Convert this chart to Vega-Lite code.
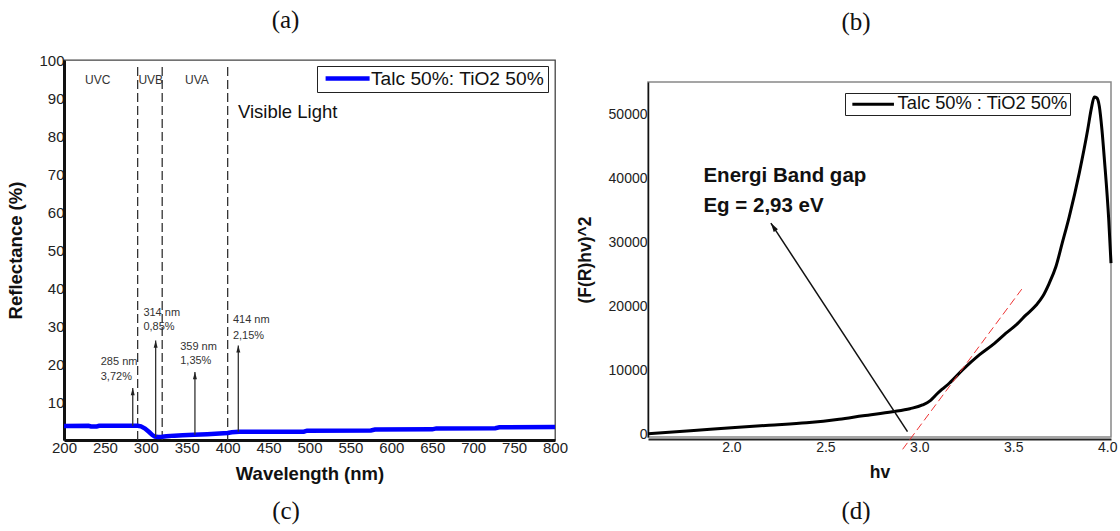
{
  "$schema": "https://vega.github.io/schema/vega-lite/v6.json",
  "padding": {"left": 6, "top": 7, "right": 0, "bottom": 0},
  "background": "white",
  "config": {
    "font": "Liberation Sans",
    "view": {"stroke": null},
    "title": {"font": "Liberation Serif", "fontSize": 25, "fontWeight": "normal", "color": "#111"},
    "axis": {"grid": false, "ticks": false, "labelFont": "Liberation Sans", "titleFont": "Liberation Sans", "labelColor": "#222", "titleColor": "#111", "titleFontWeight": "bold", "labelFlush": false, "labelOverlap": false}
  },
  "columns": 2,
  "align": "each",
  "spacing": {"row": 15, "column": 6},
  "resolve": {"scale": {"color": "independent"}, "legend": {"color": "independent"}},
  "concat": [
    {
      "title": {"text": "(a)", "offset": 20, "dx": -24},
      "width": 491,
      "height": 380,
      "view": {"stroke": "#444", "strokeWidth": 1.3},
      "layer": [
        {
          "data": {"values": [{"wl": 290, "r": 0, "r2": 99}, {"wl": 320, "r": 0, "r2": 99}, {"wl": 400, "r": 0, "r2": 99}]},
          "mark": {"type": "rule", "color": "#333", "strokeWidth": 1.3, "strokeDash": [9, 4]},
          "encoding": {
            "x": {"field": "wl", "type": "quantitative", "scale": {"domain": [200, 800], "nice": false, "zero": false},
              "axis": {"title": "Wavelength (nm)", "values": [200, 250, 300, 350, 400, 450, 500, 550, 600, 650, 700, 750, 800], "labelFontSize": 15, "labelPadding": 0, "titleFontSize": 18.5, "titlePadding": 9, "domainColor": "#111", "domainWidth": 3}},
            "y": {"field": "r", "type": "quantitative", "scale": {"domain": [0, 100], "nice": false},
              "axis": {"title": "Reflectance (%)", "values": [10, 20, 30, 40, 50, 60, 70, 80, 90, 100], "labelFontSize": 15, "labelPadding": 0, "titleFontSize": 18.5, "titlePadding": 13, "domainColor": "#111", "domainWidth": 3}},
            "y2": {"field": "r2"}
          }
        },
        {
          "data": {"values": [
            {"wl": 200, "r": 3.7, "series": "Talc 50%: TiO2 50%"},
            {"wl": 230, "r": 3.72, "series": "Talc 50%: TiO2 50%"},
            {"wl": 233, "r": 3.55, "series": "Talc 50%: TiO2 50%"},
            {"wl": 240, "r": 3.55, "series": "Talc 50%: TiO2 50%"},
            {"wl": 243, "r": 3.72, "series": "Talc 50%: TiO2 50%"},
            {"wl": 290, "r": 3.72, "series": "Talc 50%: TiO2 50%"},
            {"wl": 294, "r": 3.6, "series": "Talc 50%: TiO2 50%"},
            {"wl": 299, "r": 3.0, "series": "Talc 50%: TiO2 50%"},
            {"wl": 304, "r": 2.1, "series": "Talc 50%: TiO2 50%"},
            {"wl": 308, "r": 1.3, "series": "Talc 50%: TiO2 50%"},
            {"wl": 311, "r": 0.9, "series": "Talc 50%: TiO2 50%"},
            {"wl": 315, "r": 0.8, "series": "Talc 50%: TiO2 50%"},
            {"wl": 320, "r": 0.85, "series": "Talc 50%: TiO2 50%"},
            {"wl": 325, "r": 1.0, "series": "Talc 50%: TiO2 50%"},
            {"wl": 335, "r": 1.15, "series": "Talc 50%: TiO2 50%"},
            {"wl": 345, "r": 1.25, "series": "Talc 50%: TiO2 50%"},
            {"wl": 359, "r": 1.35, "series": "Talc 50%: TiO2 50%"},
            {"wl": 375, "r": 1.5, "series": "Talc 50%: TiO2 50%"},
            {"wl": 390, "r": 1.7, "series": "Talc 50%: TiO2 50%"},
            {"wl": 400, "r": 1.85, "series": "Talc 50%: TiO2 50%"},
            {"wl": 405, "r": 2.05, "series": "Talc 50%: TiO2 50%"},
            {"wl": 414, "r": 2.15, "series": "Talc 50%: TiO2 50%"},
            {"wl": 450, "r": 2.2, "series": "Talc 50%: TiO2 50%"},
            {"wl": 493, "r": 2.2, "series": "Talc 50%: TiO2 50%"},
            {"wl": 497, "r": 2.45, "series": "Talc 50%: TiO2 50%"},
            {"wl": 575, "r": 2.5, "series": "Talc 50%: TiO2 50%"},
            {"wl": 580, "r": 2.75, "series": "Talc 50%: TiO2 50%"},
            {"wl": 650, "r": 2.8, "series": "Talc 50%: TiO2 50%"},
            {"wl": 655, "r": 3.05, "series": "Talc 50%: TiO2 50%"},
            {"wl": 727, "r": 3.1, "series": "Talc 50%: TiO2 50%"},
            {"wl": 732, "r": 3.35, "series": "Talc 50%: TiO2 50%"},
            {"wl": 800, "r": 3.45, "series": "Talc 50%: TiO2 50%"}
          ]},
          "mark": {"type": "line", "strokeWidth": 4.5},
          "encoding": {
            "x": {"field": "wl", "type": "quantitative"},
            "y": {"field": "r", "type": "quantitative"},
            "color": {"field": "series", "type": "nominal", "scale": {"domain": ["Talc 50%: TiO2 50%"], "range": ["#0000ff"]},
              "legend": {"title": null, "orient": "none", "legendX": 253, "legendY": 6, "padding": 3, "strokeColor": "#222", "fillColor": "white",
                "symbolType": "M-4.4,0H4.4", "symbolSize": 100, "symbolStrokeWidth": 4.5, "symbolOffset": 18, "labelOffset": 13.8,
                "labelFont": "Liberation Sans", "labelFontSize": 19.2, "labelColor": "#111", "labelLimit": 400, "labelExpr": "datum.label + '\u2009'"}}
          }
        },
        {
          "data": {"values": [{"wl": 284, "r": 3.72, "r2": 13.7}, {"wl": 312, "r": 0.85, "r2": 26.2}, {"wl": 360, "r": 1.35, "r2": 17.9}, {"wl": 413, "r": 2.15, "r2": 24.9}]},
          "mark": {"type": "rule", "color": "#333", "strokeWidth": 1.3},
          "encoding": {
            "x": {"field": "wl", "type": "quantitative"},
            "y": {"field": "r", "type": "quantitative"},
            "y2": {"field": "r2"}
          }
        },
        {
          "data": {"values": [{"wl": 284, "r": 13.7}, {"wl": 312, "r": 26.2}, {"wl": 360, "r": 17.9}, {"wl": 413, "r": 24.9}]},
          "mark": {"type": "point", "shape": "M0,0L0.5,1.8L-0.5,1.8Z", "size": 64, "filled": true, "color": "#222", "opacity": 1},
          "encoding": {
            "x": {"field": "wl", "type": "quantitative"},
            "y": {"field": "r", "type": "quantitative"}
          }
        },
        {
          "data": {"values": [
            {"wl": 244.9, "r": 20.5, "t": "285 nm"}, {"wl": 244.9, "r": 16.7, "t": "3,72%"},
            {"wl": 297, "r": 33.4, "t": "314 nm"}, {"wl": 297, "r": 29.7, "t": "0,85%"},
            {"wl": 342, "r": 24.5, "t": "359 nm"}, {"wl": 342, "r": 20.7, "t": "1,35%"},
            {"wl": 406.4, "r": 31.6, "t": "414 nm"}, {"wl": 406.4, "r": 27.5, "t": "2,15%"}
          ]},
          "mark": {"type": "text", "align": "left", "baseline": "middle", "fontSize": 11, "color": "#333", "font": "Liberation Sans"},
          "encoding": {
            "x": {"field": "wl", "type": "quantitative"},
            "y": {"field": "r", "type": "quantitative"},
            "text": {"field": "t"}
          }
        },
        {
          "data": {"values": [{"wl": 241.2, "r": 94.7, "t": "UVC"}, {"wl": 306, "r": 94.7, "t": "UVB"}, {"wl": 362.5, "r": 94.7, "t": "UVA"}]},
          "mark": {"type": "text", "align": "center", "baseline": "middle", "fontSize": 12, "color": "#333", "font": "Liberation Sans"},
          "encoding": {
            "x": {"field": "wl", "type": "quantitative"},
            "y": {"field": "r", "type": "quantitative"},
            "text": {"field": "t"}
          }
        },
        {
          "data": {"values": [{"wl": 412.6, "r": 86.4, "t": "Visible Light"}]},
          "mark": {"type": "text", "align": "left", "baseline": "middle", "fontSize": 18.5, "color": "#111", "font": "Liberation Sans"},
          "encoding": {
            "x": {"field": "wl", "type": "quantitative"},
            "y": {"field": "r", "type": "quantitative"},
            "text": {"field": "t"}
          }
        }
      ]
    },
    {
      "spacing": 20,
      "vconcat": [
        {
          "title": {"text": "(b)", "offset": 25, "dx": -23.5},
          "width": 463,
          "height": 1,
          "data": {"values": []},
          "mark": "point"
        },
        {
          "width": 463,
          "height": 355,
          "view": {"stroke": "#888", "strokeWidth": 1.5},
          "layer": [
            {
              "data": {"values": [
                {"hv": 1.556, "f": 100, "series": "Talc 50% : TiO2 50%"},
                {"hv": 1.8, "f": 600, "series": "Talc 50% : TiO2 50%"},
                {"hv": 2.0, "f": 1030, "series": "Talc 50% : TiO2 50%"},
                {"hv": 2.2, "f": 1420, "series": "Talc 50% : TiO2 50%"},
                {"hv": 2.4, "f": 1800, "series": "Talc 50% : TiO2 50%"},
                {"hv": 2.573, "f": 2350, "series": "Talc 50% : TiO2 50%"},
                {"hv": 2.7, "f": 2900, "series": "Talc 50% : TiO2 50%"},
                {"hv": 2.857, "f": 3530, "series": "Talc 50% : TiO2 50%"},
                {"hv": 2.95, "f": 4000, "series": "Talc 50% : TiO2 50%"},
                {"hv": 3.017, "f": 4580, "series": "Talc 50% : TiO2 50%"},
                {"hv": 3.06, "f": 5300, "series": "Talc 50% : TiO2 50%"},
                {"hv": 3.088, "f": 6140, "series": "Talc 50% : TiO2 50%"},
                {"hv": 3.12, "f": 7000, "series": "Talc 50% : TiO2 50%"},
                {"hv": 3.159, "f": 7970, "series": "Talc 50% : TiO2 50%"},
                {"hv": 3.23, "f": 10050, "series": "Talc 50% : TiO2 50%"},
                {"hv": 3.319, "f": 12390, "series": "Talc 50% : TiO2 50%"},
                {"hv": 3.4, "f": 14200, "series": "Talc 50% : TiO2 50%"},
                {"hv": 3.461, "f": 15780, "series": "Talc 50% : TiO2 50%"},
                {"hv": 3.52, "f": 17200, "series": "Talc 50% : TiO2 50%"},
                {"hv": 3.568, "f": 18640, "series": "Talc 50% : TiO2 50%"},
                {"hv": 3.62, "f": 20100, "series": "Talc 50% : TiO2 50%"},
                {"hv": 3.656, "f": 21500, "series": "Talc 50% : TiO2 50%"},
                {"hv": 3.69, "f": 23500, "series": "Talc 50% : TiO2 50%"},
                {"hv": 3.727, "f": 26190, "series": "Talc 50% : TiO2 50%"},
                {"hv": 3.76, "f": 29800, "series": "Talc 50% : TiO2 50%"},
                {"hv": 3.798, "f": 34000, "series": "Talc 50% : TiO2 50%"},
                {"hv": 3.851, "f": 40780, "series": "Talc 50% : TiO2 50%"},
                {"hv": 3.896, "f": 47550, "series": "Talc 50% : TiO2 50%"},
                {"hv": 3.915, "f": 50800, "series": "Talc 50% : TiO2 50%"},
                {"hv": 3.931, "f": 52660, "series": "Talc 50% : TiO2 50%"},
                {"hv": 3.945, "f": 52500, "series": "Talc 50% : TiO2 50%"},
                {"hv": 3.958, "f": 51190, "series": "Talc 50% : TiO2 50%"},
                {"hv": 3.972, "f": 47500, "series": "Talc 50% : TiO2 50%"},
                {"hv": 3.985, "f": 42860, "series": "Talc 50% : TiO2 50%"},
                {"hv": 4.008, "f": 33480, "series": "Talc 50% : TiO2 50%"},
                {"hv": 4.02, "f": 26720, "series": "Talc 50% : TiO2 50%"}
              ]},
              "mark": {"type": "line", "strokeWidth": 3, "interpolate": "monotone"},
              "encoding": {
                "x": {"field": "hv", "type": "quantitative", "scale": {"domain": [1.556, 4.02], "nice": false, "zero": false},
                  "axis": {"title": "hv", "values": [2, 2.5, 3, 3.5, 4], "format": ".1f", "labelFontSize": 14, "labelPadding": 1, "titleFontSize": 17.5, "titlePadding": 9, "domainColor": "#222", "domainWidth": 2, "offset": 2}},
                "y": {"field": "f", "type": "quantitative", "scale": {"domain": [-420, 55000], "nice": false, "zero": false},
                  "axis": {"title": "(F(R)hv)^2", "values": [0, 10000, 20000, 30000, 40000, 50000], "format": "d", "labelFontSize": 14, "labelPadding": 1, "titleFontSize": 17.5, "titlePadding": 14, "domainColor": "#111", "domainWidth": 1.5}},
                "color": {"field": "series", "type": "nominal", "scale": {"domain": ["Talc 50% : TiO2 50%"], "range": ["#000000"]},
                  "legend": {"title": null, "orient": "none", "legendX": 197, "legendY": 33, "padding": 2, "strokeColor": "#222", "fillColor": "white",
                    "symbolType": "M-4.16,0H4.16", "symbolSize": 100, "symbolStrokeWidth": 3, "symbolOffset": 17, "labelOffset": 15.3,
                    "labelFont": "Liberation Sans", "labelFontSize": 18.3, "labelColor": "#111", "labelLimit": 400, "labelExpr": "datum.label + '\u00a0'"}}
              }
            },
            {
              "data": {"values": [{"hv": 2.911, "f": -2340}, {"hv": 3.545, "f": 22660}]},
              "mark": {"type": "line", "color": "#ee3333", "strokeWidth": 1, "strokeDash": [8, 4], "clip": false},
              "encoding": {
                "x": {"field": "hv", "type": "quantitative"},
                "y": {"field": "f", "type": "quantitative"}
              }
            },
            {
              "data": {"values": [{"hv": 2.937, "f": 406, "hv2": 2.21, "f2": 32970}]},
              "mark": {"type": "rule", "color": "#111", "strokeWidth": 1.5},
              "encoding": {
                "x": {"field": "hv", "type": "quantitative"},
                "y": {"field": "f", "type": "quantitative"},
                "x2": {"field": "hv2"},
                "y2": {"field": "f2"}
              }
            },
            {
              "data": {"values": [{"hv": 2.21, "f": 32970}]},
              "mark": {"type": "point", "shape": "M0,0L0.5,1.8L-0.5,1.8Z", "size": 100, "filled": true, "color": "#111", "opacity": 1, "angle": 326.8},
              "encoding": {
                "x": {"field": "hv", "type": "quantitative"},
                "y": {"field": "f", "type": "quantitative"}
              }
            },
            {
              "data": {"values": [{"hv": 1.851, "f": 40250, "t": "Energi Band gap"}, {"hv": 1.851, "f": 35670, "t": "Eg = 2,93 eV"}]},
              "mark": {"type": "text", "align": "left", "baseline": "middle", "fontSize": 20.5, "fontWeight": "bold", "color": "#111", "font": "Liberation Sans"},
              "encoding": {
                "x": {"field": "hv", "type": "quantitative"},
                "y": {"field": "f", "type": "quantitative"},
                "text": {"field": "t"}
              }
            }
          ]
        }
      ]
    },
    {
      "title": {"text": "(c)", "offset": 0, "dx": -23.5},
      "width": 491,
      "height": 1,
      "data": {"values": []},
      "mark": "point"
    },
    {
      "title": {"text": "(d)", "offset": 0, "dx": -23.5},
      "width": 463,
      "height": 1,
      "data": {"values": []},
      "mark": "point"
    }
  ]
}
